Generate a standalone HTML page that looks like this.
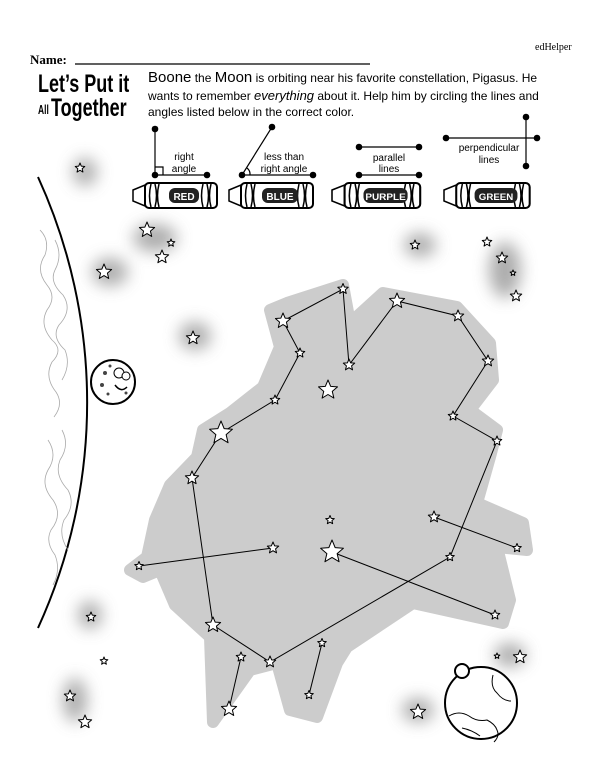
<!DOCTYPE html>
<html><head><meta charset="utf-8"><style>
body{margin:0;background:#fff;}
svg{display:block}
</style></head><body>
<svg width="600" height="776" viewBox="0 0 600 776" xmlns="http://www.w3.org/2000/svg">
<defs>
<polygon id="s" points="0,-1 .265,-.364 .951,-.309 .428,.139 .588,.809 0,.45 -.588,.809 -.428,.139 -.951,-.309 -.265,-.364" fill="#fff" stroke="#000" stroke-width="1" vector-effect="non-scaling-stroke" stroke-linejoin="round"/>
<filter id="b" x="-1" y="-1" width="3" height="3"><feGaussianBlur stdDeviation="8"/></filter>
<g id="dot"><circle r="3.3" fill="#000"/></g>
<g id="cr">
<path d="M0,5 L12,0 L12,21 L0,16 Z" fill="#fff" stroke="#000" stroke-width="1.5"/>
<rect x="12" y="-2" width="72" height="25" rx="4" fill="#fff" stroke="#000" stroke-width="2"/>
<path d="M18,-1 q-3,12 0,23 M22,-1 q3,12 0,23 M26,-1 q-3,12 0,23 M70,-1 q-3,12 0,23 M74,-1 q3,12 0,23 M78,-1 q-3,12 0,23" stroke="#000" stroke-width="1.5" fill="none"/>
</g>
</defs>

<!-- header -->
<text x="535" y="50" font-family="Liberation Serif,serif" font-size="10">edHelper</text>
<text x="30" y="64" font-family="Liberation Serif,serif" font-size="13" font-weight="bold">Name:</text>
<line x1="75" y1="64" x2="370" y2="64" stroke="#000" stroke-width="1.2"/>
<text x="38" y="92" font-family="Liberation Sans,sans-serif" font-size="25" font-weight="bold" transform="translate(38 0) scale(0.72 1) translate(-38 0)">Let’s Put it</text>
<text x="38" y="114" font-family="Liberation Sans,sans-serif" font-size="13" font-weight="bold" transform="translate(38 0) scale(0.65 1) translate(-38 0)">All</text>
<text x="51" y="116" font-family="Liberation Sans,sans-serif" font-size="25" font-weight="bold" transform="translate(51 0) scale(0.72 1) translate(-51 0)">Together</text>
<g font-family="Liberation Sans,sans-serif" font-size="12">
<text x="148" y="82"><tspan font-size="15">Boone</tspan> the <tspan font-size="15">Moon</tspan> is orbiting near his favorite constellation, Pigasus. He</text>
<text x="148" y="100">wants to remember <tspan font-size="13" font-style="italic">everything</tspan> about it. Help him by circling the lines and</text>
<text x="148" y="116">angles listed below in the correct color.</text>
</g>

<!-- diagrams -->
<g stroke="#000" stroke-width="1.2" fill="none">
<line x1="155" y1="129" x2="155" y2="175"/><line x1="155" y1="175" x2="207" y2="175"/>
<path d="M155,167 h8 v8"/>
<line x1="242" y1="175" x2="272" y2="127"/><line x1="242" y1="175" x2="313" y2="175"/>
<path d="M247,168 a8,8 0 0 1 3,7"/>
<line x1="359" y1="147" x2="419" y2="147"/><line x1="359" y1="175" x2="419" y2="175"/>
<line x1="446" y1="138" x2="537" y2="138"/><line x1="526" y1="117" x2="526" y2="166"/>
</g>
<use href="#dot" x="155" y="129"/><use href="#dot" x="155" y="175"/><use href="#dot" x="207" y="175"/>
<use href="#dot" x="272" y="127"/><use href="#dot" x="242" y="175"/><use href="#dot" x="313" y="175"/>
<use href="#dot" x="359" y="147"/><use href="#dot" x="419" y="147"/><use href="#dot" x="359" y="175"/><use href="#dot" x="419" y="175"/>
<use href="#dot" x="446" y="138"/><use href="#dot" x="537" y="138"/><use href="#dot" x="526" y="117"/><use href="#dot" x="526" y="166"/>
<g font-family="Liberation Sans,sans-serif" font-size="10" text-anchor="middle">
<text x="184" y="160">right</text><text x="184" y="172">angle</text>
<text x="284" y="160">less than</text><text x="284" y="172">right angle</text>
<text x="389" y="161">parallel</text><text x="389" y="172">lines</text>
<text x="489" y="151">perpendicular</text><text x="489" y="163">lines</text>
</g>

<!-- crayons -->
<g transform="translate(133,185)"><use href="#cr"/><rect x="36" y="3" width="30" height="15" rx="6" fill="#222"/><text x="51" y="15" fill="#fff" font-family="Liberation Sans,sans-serif" font-weight="bold" font-size="10" text-anchor="middle">RED</text></g>
<g transform="translate(229,185)"><use href="#cr"/><rect x="33" y="3" width="36" height="15" rx="6" fill="#222"/><text x="51" y="15" fill="#fff" font-family="Liberation Sans,sans-serif" font-weight="bold" font-size="10" text-anchor="middle">BLUE</text></g>
<g transform="translate(332,185) scale(1.05 1)"><use href="#cr"/><rect x="30" y="3" width="42" height="15" rx="6" fill="#222"/><text x="51" y="15" fill="#fff" font-family="Liberation Sans,sans-serif" font-weight="bold" font-size="9.5" text-anchor="middle">PURPLE</text></g>
<g transform="translate(444,185) scale(1.02 1)"><use href="#cr"/><rect x="30" y="3" width="42" height="15" rx="6" fill="#222"/><text x="51" y="15" fill="#fff" font-family="Liberation Sans,sans-serif" font-weight="bold" font-size="9.5" text-anchor="middle">GREEN</text></g>

<!-- glows -->
<g fill="#999" filter="url(#b)" opacity="0.8">
<ellipse cx="85" cy="172" rx="12" ry="14"/>
<ellipse cx="155" cy="238" rx="22" ry="14"/>
<ellipse cx="110" cy="272" rx="18" ry="14"/>
<ellipse cx="195" cy="336" rx="16" ry="14"/>
<ellipse cx="420" cy="245" rx="16" ry="12"/>
<ellipse cx="505" cy="270" rx="16" ry="28"/>
<ellipse cx="90" cy="615" rx="12" ry="14"/>
<ellipse cx="75" cy="700" rx="12" ry="22"/>
<ellipse cx="510" cy="655" rx="16" ry="12"/>
<ellipse cx="418" cy="710" rx="16" ry="12"/>
</g>

<!-- left planet -->
<path d="M38,177 A542,542 0 0 1 38,628" fill="none" stroke="#000" stroke-width="2"/>
<g fill="none" stroke="#aaa" stroke-width="0.8">
<path d="M40,230 q10,10 5,25 q-10,15 2,30 q10,12 0,25 q-8,15 5,30 q12,10 0,22 q-8,15 4,30 q8,12 -2,25"/>
<path d="M55,240 q8,15 0,30 q-6,12 8,25 q10,15 -4,30 q-8,12 6,25 q6,15 -3,30"/>
<path d="M48,440 q10,15 0,30 q-8,15 5,30 q10,15 -2,30 q-6,12 4,25 q6,15 -2,30"/>
<path d="M62,430 q8,15 -2,30 q-6,15 8,30 q8,15 -4,30 q-6,15 4,30"/>
</g>
<!-- moon Boone -->
<circle cx="113" cy="382" r="22" fill="#fff" stroke="#000" stroke-width="2"/>
<g fill="#444"><circle cx="105" cy="373" r="2"/><circle cx="102" cy="385" r="2"/><circle cx="108" cy="394" r="1.5"/><circle cx="126" cy="393" r="1.5"/><circle cx="110" cy="366" r="1.5"/></g>
<ellipse cx="119" cy="373" rx="5" ry="5" fill="#fff" stroke="#000"/><ellipse cx="126" cy="376" rx="4" ry="4" fill="#fff" stroke="#000"/>
<path d="M115,385 q6,8 12,2" fill="none" stroke="#000" stroke-width="1.5"/>

<!-- constellation shape -->
<path d="M270,310 L287,303 L343,285 L350,323 L383,293 L457,307 L490,343 L493,380 L470,410 L497,430 L490,457 L477,503 L523,523 L527,550 L497,547 L510,600 L503,623 L413,603 L347,647 L337,663 L317,717 L290,710 L277,663 L250,670 L213,722 L210,637 L175,605 L160,570 L143,577 L130,570 L147,557 L155,520 L170,485 L197,457 L203,430 L230,413 L263,387 L280,347 Z" fill="#cccccc" stroke="#cccccc" stroke-width="12" stroke-linejoin="round"/>

<!-- lines -->
<g stroke="#000" stroke-width="1" fill="none">
<polyline points="283,321 343,289 349,365 397,301 458,316 488,361 453,416 497,441 450,557 270,662 213,625 192,478 221,433 275,400 300,353 283,321"/>
<line x1="139" y1="566" x2="273" y2="548"/>
<line x1="332" y1="552" x2="495" y2="615"/>
<line x1="434" y1="517" x2="517" y2="548"/>
<line x1="241" y1="657" x2="229" y2="709"/>
<line x1="322" y1="643" x2="309" y2="695"/>
</g>

<!-- stars -->
<g>
<use href="#s" transform="translate(221,433) scale(12)"/>
<use href="#s" transform="translate(332,552) scale(12)"/>
<use href="#s" transform="translate(283,321) scale(8)"/>
<use href="#s" transform="translate(397,301) scale(8)"/>
<use href="#s" transform="translate(328,390) scale(10)"/>
<use href="#s" transform="translate(213,625) scale(8)"/>
<use href="#s" transform="translate(229,709) scale(8)"/>
<use href="#s" transform="translate(343,289) scale(5.5)"/>
<use href="#s" transform="translate(300,353) scale(5)"/>
<use href="#s" transform="translate(349,365) scale(6)"/>
<use href="#s" transform="translate(458,316) scale(6)"/>
<use href="#s" transform="translate(488,361) scale(6)"/>
<use href="#s" transform="translate(453,416) scale(5)"/>
<use href="#s" transform="translate(497,441) scale(5)"/>
<use href="#s" transform="translate(275,400) scale(5)"/>
<use href="#s" transform="translate(192,478) scale(7)"/>
<use href="#s" transform="translate(330,520) scale(4.5)"/>
<use href="#s" transform="translate(273,548) scale(6)"/>
<use href="#s" transform="translate(139,566) scale(4.5)"/>
<use href="#s" transform="translate(434,517) scale(6)"/>
<use href="#s" transform="translate(517,548) scale(4.5)"/>
<use href="#s" transform="translate(450,557) scale(4.5)"/>
<use href="#s" transform="translate(495,615) scale(5)"/>
<use href="#s" transform="translate(270,662) scale(6)"/>
<use href="#s" transform="translate(241,657) scale(5)"/>
<use href="#s" transform="translate(322,643) scale(4.5)"/>
<use href="#s" transform="translate(309,695) scale(4.5)"/>
<use href="#s" transform="translate(80,168) scale(5)"/>
<use href="#s" transform="translate(147,230) scale(8)"/>
<use href="#s" transform="translate(171,243) scale(4)"/>
<use href="#s" transform="translate(162,257) scale(7)"/>
<use href="#s" transform="translate(104,272) scale(8)"/>
<use href="#s" transform="translate(193,338) scale(7)"/>
<use href="#s" transform="translate(415,245) scale(5)"/>
<use href="#s" transform="translate(487,242) scale(5)"/>
<use href="#s" transform="translate(502,258) scale(6)"/>
<use href="#s" transform="translate(513,273) scale(3)"/>
<use href="#s" transform="translate(516,296) scale(6)"/>
<use href="#s" transform="translate(91,617) scale(5)"/>
<use href="#s" transform="translate(104,661) scale(4)"/>
<use href="#s" transform="translate(70,696) scale(6)"/>
<use href="#s" transform="translate(85,722) scale(7)"/>
<use href="#s" transform="translate(497,656) scale(3)"/>
<use href="#s" transform="translate(520,657) scale(7)"/>
<use href="#s" transform="translate(418,712) scale(8)"/>
</g>

<!-- bottom right planet -->
<circle cx="481" cy="703" r="36" fill="#fff" stroke="#000" stroke-width="2"/>
<path d="M449,716 q10,-6 20,0 q8,6 18,4 q8,4 10,10 q3,6 -3,12 M462,728 q10,2 18,8 M493,675 q-3,12 4,18 q6,8 14,8" fill="none" stroke="#000" stroke-width="1"/>
<circle cx="462" cy="671" r="7" fill="#fff" stroke="#000" stroke-width="2"/>
</svg>
</body></html>
